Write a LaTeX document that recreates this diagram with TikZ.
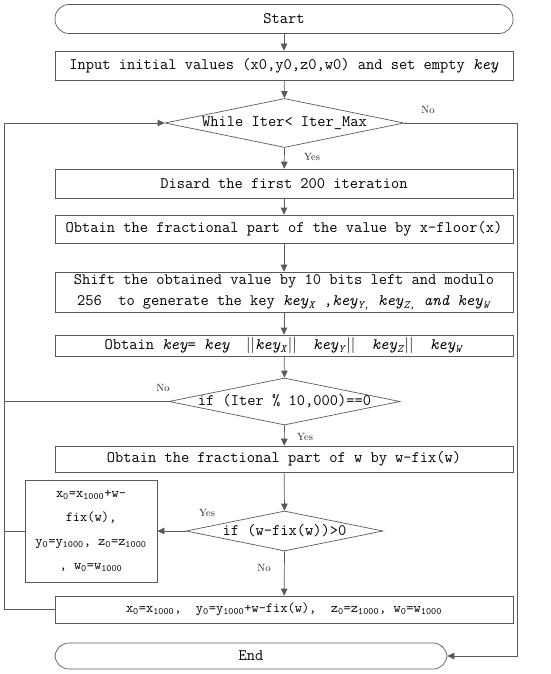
\documentclass[tikz,border=0pt]{standalone}
\usepackage{fontspec}
\usetikzlibrary{arrows.meta,shapes.geometric}
\begin{document}
\begin{tikzpicture}[x=1pt,y=-1pt,
  line width=0.7pt,
  lc/.style={draw=black!65},
  txt/.style={font=\fontsize{16}{21}\ttfamily, text=black, inner sep=0pt},
  box/.style={lc, txt, rectangle, minimum width=458pt, inner sep=0pt},
  term/.style={box, rounded corners=14pt},
  dia/.style={lc, diamond, inner sep=0pt},
  lab/.style={font=\fontsize{10.5}{12}\selectfont, text=black!85, inner sep=0pt},
  arr/.style={lc, -{Triangle[length=7pt,width=6.5pt]}, shorten >=0pt},
  ln/.style={lc}]
\useasboundingbox (0,0) rectangle (550,674);
\node[term, minimum height=29pt] (start) at (284,19) {Start};
\node[box, minimum height=29pt] (input) at (284,65.5) {Input initial values (x0,y0,z0,w0) and set empty \textit{key}};
\node[dia, minimum width=239pt, minimum height=49pt] (d1) at (284.5,123) {};
\node[txt] (d1t) at (d1) {While Iter< Iter\_Max};
\node[box, minimum height=29pt] (disc) at (284,183.5) {Disard the first 200 iteration};
\node[box, minimum height=28pt] (frac) at (284,229) {Obtain the fractional part of the value by x-floor(x)};
\node[box, minimum height=40pt, align=center] (shift) at (284,292) {Shift the obtained value by 10 bits left and modulo\\256\ \ to generate the key \textit{key}\textsubscript{\textit{X}} ,\textit{key}\textsubscript{\textit{Y},} \textit{key}\textsubscript{\textit{Z},} \textit{and key}\textsubscript{\textit{W}}};
\node[box, minimum height=21pt] (kbox) at (284,345.5) {Obtain \textit{key}= \textit{key}\ \ {\rmfamily||}\textit{key}\textsubscript{\textit{X}}{\rmfamily||}\ \ \textit{key}\textsubscript{\textit{Y}}{\rmfamily||}\ \ \textit{key}\textsubscript{\textit{Z}}{\rmfamily||}\ \ \textit{key}\textsubscript{\textit{W}}};
\node[dia, minimum width=231pt, minimum height=47pt] (d2) at (284.5,401.5) {};
\node[txt] (d2t) at (d2) {if (Iter \% 10,000)==0};
\node[box, minimum height=26pt] (wbox) at (284,459) {Obtain the fractional part of w by w-fix(w)};
\node[dia, minimum width=197pt, minimum height=40pt] (d3) at (284.5,531) {};
\node[txt] (d3t) at (d3) {if (w-fix(w))>0};
\node[lc, txt, rectangle, minimum width=132pt, minimum height=102pt, align=center, font=\fontsize{14}{24}\ttfamily] (lbox) at (91,531) {x\textsubscript{0}=x\textsubscript{1000}+w-\\fix(w),\\y\textsubscript{0}=y\textsubscript{1000}, z\textsubscript{0}=z\textsubscript{1000}\\, w\textsubscript{0}=w\textsubscript{1000}};
\node[box, minimum height=27pt, font=\fontsize{14}{18}\ttfamily] (fbox) at (284,609.5) {x\textsubscript{0}=x\textsubscript{1000},\ \ y\textsubscript{0}=y\textsubscript{1000}+w-fix(w),\ \ z\textsubscript{0}=z\textsubscript{1000}, w\textsubscript{0}=w\textsubscript{1000}};
\node[term, minimum width=392pt, minimum height=26pt] (end) at (251,656) {End};
% coordinates
\coordinate (Lf) at (4,609.5);
\coordinate (Lt) at (4,123);
\coordinate (Ld2) at (4,401.5);
\coordinate (Ll) at (4,531);
\coordinate (Rt) at (517,123);
\coordinate (Rb) at (517,656);
% arrows
\draw[arr] (start) -- (input);
\draw[arr] (input) -- (d1.north);
\draw[arr] (d1.south) -- (disc);
\draw[arr] (disc) -- (frac);
\draw[arr] (frac) -- (shift);
\draw[arr] (shift) -- (kbox);
\draw[arr] (kbox) -- (d2.north);
\draw[arr] (d2.south) -- (wbox);
\draw[arr] (wbox) -- (d3.north);
\draw[arr] (d3.west) -- (lbox.east);
\draw[arr] (d3.south) -- (fbox);
\draw[arr] (fbox.west) -- (Lf) -- (Lt) -- (d1.west);
\draw[ln] (d2.west) -- (Ld2);
\draw[ln] (lbox.west) -- (Ll);
\draw[arr] (d1.east) -- (Rt) -- (Rb) -- (end.east);
% labels
\node[lab] (no1) at (428,110) {No};
\node[lab] (yes1) at (312,157) {Yes};
\node[lab] (no2) at (163,388) {No};
\node[lab] (yes2) at (305,437) {Yes};
\node[lab] (yes3) at (207,513) {Yes};
\node[lab] (no3) at (264,568) {No};
\end{tikzpicture}
\end{document}
